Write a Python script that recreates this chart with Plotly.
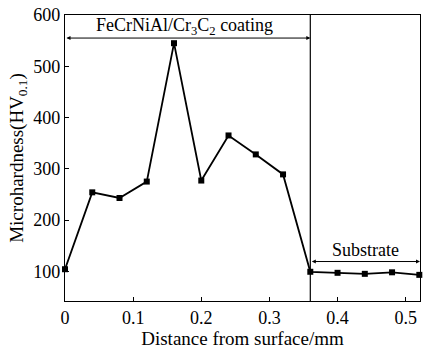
import plotly.graph_objects as go

# Microhardness profile across the coating / substrate
distance_mm = [0.0, 0.04, 0.08, 0.12, 0.16, 0.20, 0.24, 0.28, 0.32, 0.36, 0.40, 0.44, 0.48, 0.52]
hardness_hv = [104, 254, 243, 275, 545, 277, 365, 328, 289, 99, 97, 95, 98, 93]

x_ticks = [0, 0.1, 0.2, 0.3, 0.4, 0.5]
x_tick_labels = ["0", "0.1", "0.2", "0.3", "0.4", "0.5"]
y_ticks = [100, 200, 300, 400, 500, 600]

interface_x = 0.36
coating_label = "FeCrNiAl/Cr<sub>3</sub>C<sub>2</sub> coating"
substrate_label = "Substrate"
coating_arrow_y = 555
substrate_arrow_y = 119

FONT = "Liberation Serif, Times New Roman, serif"

fig = go.Figure()
fig.add_trace(go.Scatter(
    x=distance_mm, y=hardness_hv, mode="lines+markers",
    line=dict(color="black", width=1.8),
    marker=dict(symbol="square", size=6, color="black"),
    cliponaxis=False, showlegend=False,
))

# coating / substrate boundary
fig.add_shape(type="line", x0=interface_x, x1=interface_x, y0=0, y1=1,
              xref="x", yref="paper", line=dict(color="black", width=1.2))

# double-headed span arrows
for x0, x1, y in [(0, interface_x, coating_arrow_y), (interface_x, 0.521, substrate_arrow_y)]:
    fig.add_annotation(x=x1, y=y, ax=x0, ay=y, xref="x", yref="y", axref="x", ayref="y",
                       showarrow=True, arrowside="end+start", arrowhead=2, startarrowhead=2,
                       arrowsize=0.8, startarrowsize=0.8, arrowwidth=1, arrowcolor="black", text="")

fig.add_annotation(x=interface_x / 2 - 0.005, y=coating_arrow_y, xref="x", yref="y", text=coating_label,
                   showarrow=False, yanchor="bottom", yshift=-2, font=dict(family=FONT, size=18, color="black"))
fig.add_annotation(x=(interface_x + 0.521) / 2, y=substrate_arrow_y, xref="x", yref="y", text=substrate_label,
                   showarrow=False, yanchor="bottom", yshift=0, font=dict(family=FONT, size=18, color="black"))

fig.update_layout(
    width=426, height=349,
    margin=dict(l=65, r=5, t=12, b=48),
    paper_bgcolor="white", plot_bgcolor="white",
    font=dict(family=FONT, size=18, color="black"),
    xaxis=dict(range=[0, 0.521], tickvals=x_ticks, ticktext=x_tick_labels,
               ticks="inside", ticklen=4, tickcolor="black", showgrid=False, zeroline=False,
               showline=True, linecolor="black", linewidth=1.2, mirror=True,
               title=dict(text="Distance from surface/mm", standoff=2, font=dict(size=19)),
               tickfont=dict(size=18)),
    yaxis=dict(range=[42, 600], tickvals=y_ticks,
               ticks="inside", ticklen=4, tickcolor="black", showgrid=False, zeroline=False,
               showline=True, linecolor="black", linewidth=1.2, mirror=True,
               title=dict(text="Microhardness(HV<sub>0.1</sub>)", standoff=4, font=dict(size=19)),
               tickfont=dict(size=18)),
)

fig.write_html("out.html")
